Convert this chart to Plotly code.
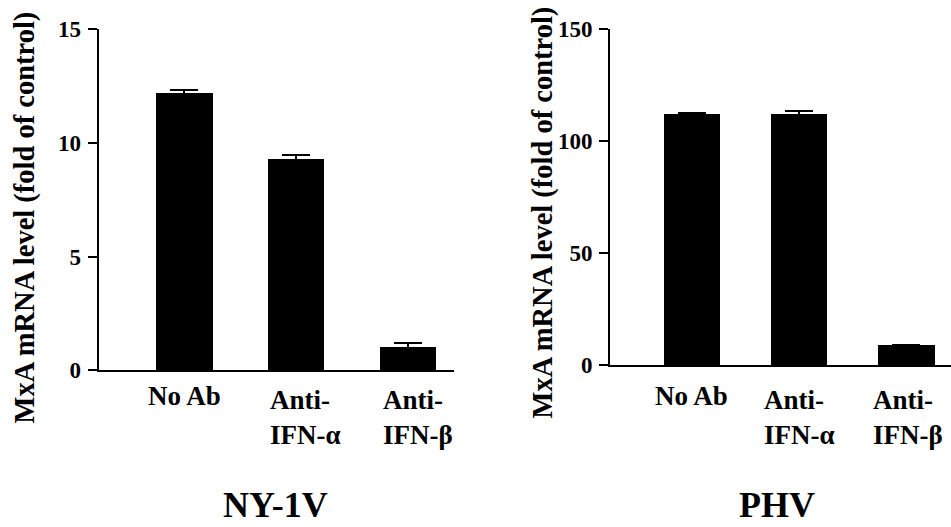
import plotly.graph_objects as go

# ---- data ----
categories = ["No Ab", "Anti-<br>IFN-α", "Anti-<br>IFN-β"]
ny1v_values = [12.18, 9.27, 1.02]
ny1v_errors = [0.13, 0.19, 0.19]
phv_values = [112.3, 112.3, 9.2]
phv_errors = [0.4, 1.1, 0.0]
ny1v_ticks = [0, 5, 10, 15]
phv_ticks = [0, 50, 100, 150]
panel_titles = ["NY-1V", "PHV"]
y_title = "MxA mRNA level (fold of control)"

W, H = 951, 527
FONT = "Liberation Serif, Times New Roman, serif"

xpos = list(range(len(categories)))

fig = go.Figure()
fig.add_trace(go.Bar(
    x=xpos, y=ny1v_values, width=0.505, xaxis="x", yaxis="y",
    marker=dict(color="black", line=dict(width=0)),
    error_y=dict(type="data", array=ny1v_errors, visible=True,
                 color="black", thickness=2, width=14),
    showlegend=False))
fig.add_trace(go.Bar(
    x=xpos, y=phv_values, width=0.525, xaxis="x2", yaxis="y2",
    marker=dict(color="black", line=dict(width=0)),
    error_y=dict(type="data", array=phv_errors, visible=True,
                 color="black", thickness=2, width=14),
    showlegend=False))

def px_x(p):
    return p / W

def px_y(p):
    return 1 - p / H

xcommon = dict(showgrid=False, zeroline=False, showline=True, linecolor="black",
               linewidth=2, ticks="", showticklabels=False, range=[-0.763, 2.415],
               fixedrange=True, automargin=False)
ycommon = dict(showgrid=False, zeroline=False, showline=True, linecolor="black",
               linewidth=2, ticks="outside", ticklen=9, tickwidth=2, tickcolor="black",
               tickfont=dict(family=FONT, size=23, color="black", weight="bold"),
               ticklabelstandoff=2, fixedrange=True, automargin=False)

fig.update_layout(
    width=W, height=H,
    margin=dict(l=0, r=0, t=0, b=0, pad=0, autoexpand=False),
    paper_bgcolor="white", plot_bgcolor="white",
    xaxis=dict(domain=[px_x(98.7), px_x(454)], anchor="y", **xcommon),
    yaxis=dict(domain=[px_y(370.3), px_y(29)], anchor="x", range=[0, 15],
               tickvals=ny1v_ticks, **ycommon),
    xaxis2=dict(domain=[px_x(610), px_x(951)], anchor="y2", **xcommon),
    yaxis2=dict(domain=[px_y(365.2), px_y(29)], anchor="x2", range=[0, 150],
                tickvals=phv_ticks, **ycommon),
    bargap=0,
)

annotations = []
# category labels
shifts = {"x": [0, 10, 10], "x2": [0, 0, 2]}
yshifts = [0, -4, -4]
for xref in ["x", "x2"]:
    for i, lab in enumerate(categories):
        annotations.append(dict(
            x=xpos[i], xref=xref, y=px_y(379), yref="paper",
            xanchor="center", yanchor="top", align="left", showarrow=False,
            xshift=shifts[xref][i], yshift=yshifts[i],
            text="<b>" + lab + "</b>",
            font=dict(family=FONT, size=27, color="black")))
# y titles
for xc, yc in [(24.5, 218), (542.5, 213)]:
    annotations.append(dict(
        x=px_x(xc), xref="paper", y=px_y(yc), yref="paper",
        xanchor="center", yanchor="middle", textangle=-90, showarrow=False,
        text="<b>" + y_title + "</b>",
        font=dict(family=FONT, size=28.5, color="black")))
# panel titles
for t, xc in zip(panel_titles, [275, 777]):
    annotations.append(dict(
        x=px_x(xc), xref="paper", y=0, yref="paper",
        xanchor="center", yanchor="bottom", showarrow=False,
        text="<b>" + t + "</b>",
        font=dict(family=FONT, size=36, color="black")))

fig.update_layout(annotations=annotations)
fig.write_html("out.html", config={"displayModeBar": False},
               post_script="document.body.style.margin='0';document.body.style.overflow='hidden';")
